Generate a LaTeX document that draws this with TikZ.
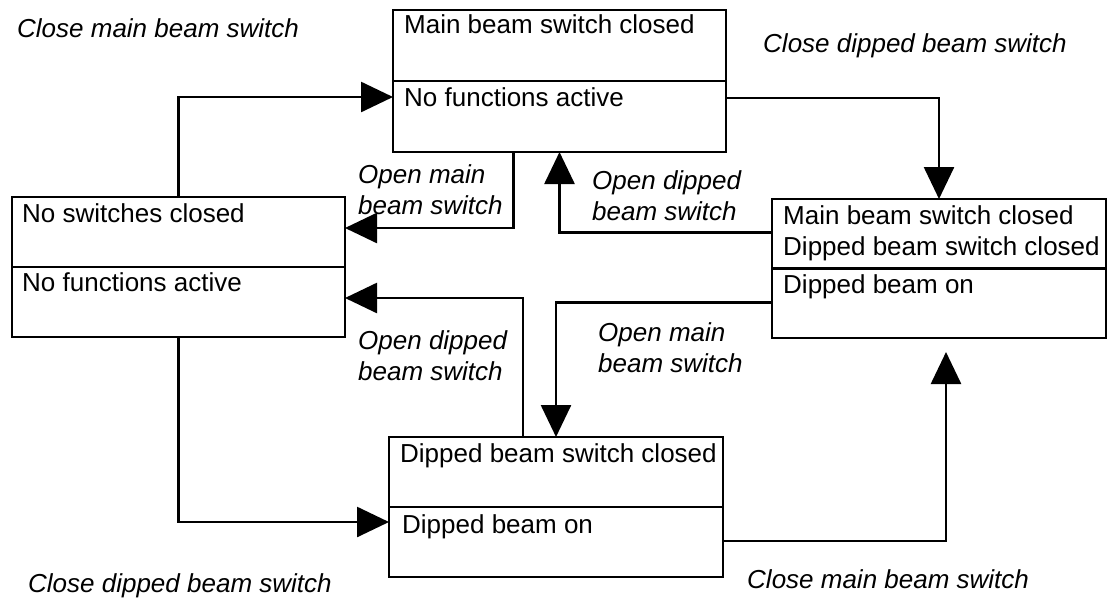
\documentclass[tikz,border=0pt]{standalone}
\usepackage{fontspec}
\setmainfont{Liberation Sans}
\usetikzlibrary{arrows.meta}
\begin{document}
\begin{tikzpicture}[x=1pt,y=-1pt,
  box/.style={draw, line width=2.6pt, rectangle, inner sep=0pt, outer sep=0pt, anchor=north west},
  divline/.style={line width=2.6pt},
  conn/.style={line width=2.6pt, -{Triangle[length=32pt,width=30pt]}},
  st/.style={anchor=base west, inner sep=0pt, align=left, font=\fontsize{26}{30.5}\selectfont},
  lab/.style={anchor=base west, inner sep=0pt, align=left, font=\fontsize{26}{30.5}\selectfont\itshape}]
\useasboundingbox (0,0) rectangle (1108,600);

% state boxes
\node[box, minimum width=333pt, minimum height=142pt] (T) at (393,10) {};
\node[box, minimum width=333pt, minimum height=140pt] (L) at (12,197) {};
\node[box, minimum width=334pt, minimum height=139pt] (R) at (772,199) {};
\node[box, minimum width=334pt, minimum height=140pt] (B) at (389,437) {};
\draw[divline] (T.west) -- (T.east);
\draw[divline] (L.west) -- (L.east);
\draw[divline] (R.west) -- (R.east);
\draw[divline] (B.west) -- (B.east);

% box texts (multi-line nodes are placed by the baseline of their last line)
\node[st] (t1) at (404,33) {Main beam switch closed};
\node[st] (t2) at (404,106) {No functions active};
\node[st] (l1) at (22,222) {No switches closed};
\node[st] (l2) at (22,291) {No functions active};
\node[st] (r1) at (783,255) {Main beam switch closed\\Dipped beam switch closed};
\node[st] (r2) at (783,293) {Dipped beam on};
\node[st] (b1) at (400,462) {Dipped beam switch closed};
\node[st] (b2) at (402,533) {Dipped beam on};

% transition labels
\node[lab] (e1) at (17,37) {Close main beam switch};
\node[lab] (e2) at (763,52) {Close dipped beam switch};
\node[lab] (e3) at (358,214) {Open main\\beam switch};
\node[lab] (e4) at (592,220) {Open dipped\\beam switch};
\node[lab] (e5) at (358,380) {Open dipped\\beam switch};
\node[lab] (e6) at (598,372) {Open main\\beam switch};
\node[lab] (e7) at (28,592) {Close dipped beam switch};
\node[lab] (e8) at (747,588) {Close main beam switch};

% transitions
\draw[conn] (L.north) |- ([yshift=-16pt]T.west);
\draw[conn] ([yshift=-17pt]T.east) -| (R.north);
\draw[conn] ([xshift=-46pt]T.south) |- ([yshift=39pt]L.east);
\draw[conn] ([yshift=36pt]R.west) -| (T.south);
\draw[conn] ([xshift=-33pt]B.north) |- ([yshift=-31pt]L.east);
\draw[conn] ([yshift=-34pt]R.west) -| (B.north);
\draw[conn] (L.south) |- ([yshift=-15pt]B.west);
\draw[conn] ([yshift=-34pt]B.east) -| ([xshift=7pt,yshift=-14pt]R.south);
\end{tikzpicture}
\end{document}
